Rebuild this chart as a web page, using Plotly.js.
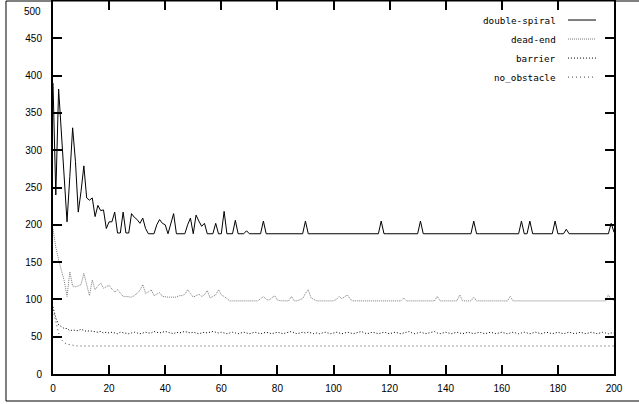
<!DOCTYPE html>
<html>
<head>
<meta charset="utf-8">
<script src="https://cdn.plot.ly/plotly-3.0.1.min.js"></script>
<style>html,body{margin:0;padding:0;background:#fff;}#chart{width:639px;height:404px;}</style>
</head>
<body>
<div id="chart"></div>
<script>
// Series names (legend order)
const seriesNames = ["double-spiral", "dead-end", "barrier", "no_obstacle"];

// Values per step 0..200
const doubleSpiral = [
390,240,382,320,255,204,265,330,285,217,
245,279,236,233,236,211,226,219,220,195,
204,204,217,189,189,217,189,189,215,210,
207,202,209,195,188,188,188,200,207,202,
200,188,200,215,188,188,188,188,200,209,
188,213,205,198,202,188,188,188,202,188,
188,218,188,188,188,206,188,188,188,192,
188,188,188,188,188,205,188,188,188,188,
188,188,188,188,188,188,188,188,188,188,
205,188,188,188,188,188,188,188,188,188,
188,188,188,188,188,188,188,188,188,188,
188,188,188,188,188,188,188,205,188,188,
188,188,188,188,188,188,188,188,188,188,
188,205,188,188,188,188,188,188,188,188,
188,188,188,188,188,188,188,188,188,188,
205,188,188,188,188,188,188,188,188,188,
188,188,188,188,188,188,188,205,188,188,
205,188,188,188,188,188,188,188,188,205,
188,188,188,194,188,188,188,188,188,188,
188,188,188,188,188,188,188,188,188,202,
190];

const deadEnd = [
194,170,153,139,125,104,137,118,117,118,
120,135,120,105,126,113,118,122,115,117,
119,114,110,113,108,104,104,104,103,105,
108,112,120,108,110,113,105,107,109,104,
103,103,103,103,103,105,105,107,113,108,
103,105,107,104,106,112,102,104,106,113,
106,104,101,98,98,98,98,98,98,98,
98,98,98,98,101,104,100,99,102,105,
99,98,98,98,98,104,98,98,99,101,
108,113,102,100,98,98,98,98,98,98,
98,100,104,101,103,106,100,98,98,98,
98,98,98,98,98,98,98,98,98,98,
98,98,98,98,98,102,98,98,98,98,
98,98,98,98,98,98,98,104,98,98,
98,98,98,98,98,106,98,98,98,98,
103,98,98,98,98,98,98,98,98,98,
98,98,98,104,98,98,98,98,98,98,
98,98,98,98,98,98,98,98,98,98,
98,98,98,98,98,98,98,98,98,98,
98,98,98,98,98,98,98,98,106,100,
99];

const barrier = [
90,75,66,63,61,61,58,59,59,58,
60,58,57,58,57,56,56,57,55,56,
55,56,55,54,56,55,55,54,55,56,
55,54,55,56,55,55,57,56,55,56,
57,56,55,54,56,55,56,57,56,55,
56,55,54,55,56,55,56,57,56,55,
56,55,54,55,56,55,54,55,56,55,
54,55,56,55,54,55,56,55,54,55,
56,55,54,55,56,57,55,54,55,56,
55,56,55,54,55,54,55,56,55,54,
55,56,55,54,55,56,55,54,55,56,
57,55,54,55,56,55,54,55,56,55,
54,55,56,55,54,55,56,57,55,54,
55,56,55,54,55,56,57,55,54,55,
56,55,54,55,56,55,54,55,56,55,
54,55,56,55,54,55,56,55,54,55,
56,55,54,55,56,55,54,55,56,55,
54,55,56,55,54,55,56,55,54,55,
56,55,54,55,56,55,54,55,56,55,
54,55,56,55,54,55,56,55,54,55,
55];

const noObstacle = [
86,70,55,46,42,40,39,38.5,38,37.5,
37.5,37.5,37.5,37.5,37.5,37.5,37.5,37.5,37.5,37.5,
37.5,37.5,37.5,37.5,37.5,37.5,37.5,37.5,37.5,37.5,
37.5,37.5,37.5,37.5,37.5,37.5,37.5,37.5,37.5,37.5,
37.5,37.5,37.5,37.5,37.5,37.5,37.5,37.5,37.5,37.5,
37.5,37.5,37.5,37.5,37.5,37.5,37.5,37.5,37.5,37.5,
37.5,37.5,37.5,37.5,37.5,37.5,37.5,37.5,37.5,37.5,
37.5,37.5,37.5,37.5,37.5,37.5,37.5,37.5,37.5,37.5,
37.5,37.5,37.5,37.5,37.5,37.5,37.5,37.5,37.5,37.5,
37.5,37.5,37.5,37.5,37.5,37.5,37.5,37.5,37.5,37.5,
37.5,37.5,37.5,37.5,37.5,37.5,37.5,37.5,37.5,37.5,
37.5,37.5,37.5,37.5,37.5,37.5,37.5,37.5,37.5,37.5,
37.5,37.5,37.5,37.5,37.5,37.5,37.5,37.5,37.5,37.5,
37.5,37.5,37.5,37.5,37.5,37.5,37.5,37.5,37.5,37.5,
37.5,37.5,37.5,37.5,37.5,37.5,37.5,37.5,37.5,37.5,
37.5,37.5,37.5,37.5,37.5,37.5,37.5,37.5,37.5,37.5,
37.5,37.5,37.5,37.5,37.5,37.5,37.5,37.5,37.5,37.5,
37.5,37.5,37.5,37.5,37.5,37.5,37.5,37.5,37.5,37.5,
37.5,37.5,37.5,37.5,37.5,37.5,37.5,37.5,37.5,37.5,
37.5,37.5,37.5,37.5,37.5,37.5,37.5,37.5,37.5,37.5,
37.5];

const xTicks = [0,20,40,60,80,100,120,140,160,180,200];
const yTicks = [0,50,100,150,200,250,300,350,400,450,500];

const seriesValues = [doubleSpiral, deadEnd, barrier, noObstacle];
const styles = [
  {color:'#000000', dash:'solid'},
  {color:'#7a7a7a', dash:'1px,1px'},
  {color:'#000000', dash:'1px,2px'},
  {color:'#444444', dash:'1px,3px'}
];

const traces = seriesValues.map((v,i)=>({
  y: v, type:'scatter', mode:'lines', name: seriesNames[i],
  line:{color:styles[i].color, dash:styles[i].dash, width:1},
  showlegend:false, hoverinfo:'skip'
}));

const tickFont = {family:'Liberation Sans', size:10, color:'#000'};

// Legend drawn gnuplot-style (text right, sample on the right)
const legRowsY = [0.949, 0.898, 0.847, 0.796];
const annotations = seriesNames.map((n,i)=>({
  xref:'paper', yref:'paper', x:0.9, y:legRowsY[i], xanchor:'right', yanchor:'middle',
  text:n, showarrow:false, font:{family:'DejaVu Sans Mono', size:9.3, color:'#000'}
}));
// top y label (drawn slightly below the border, as in the reference)
const topTick = yTicks[yTicks.length-1];
annotations.push({xref:'paper', yref:'paper', x:-0.0178, y:0.973, xanchor:'right', yanchor:'middle',
  text:String(topTick), showarrow:false, font:tickFont});

const shapes = seriesNames.map((n,i)=>({
  type:'line', xref:'paper', yref:'paper', x0:0.918, x1:0.968, y0:legRowsY[i], y1:legRowsY[i],
  line:{color:styles[i].color, dash:styles[i].dash, width:1}
}));
// outer frame
shapes.push({type:'rect', xref:'paper', yref:'paper', x0:-0.0838, x1:1.2, y0:-0.0724, y1:1.0,
  line:{color:'#000', width:1}, fillcolor:'rgba(0,0,0,0)', layer:'below'});

const axisCommon = {
  showgrid:false, zeroline:false, showline:true, linecolor:'#000', linewidth:2,
  mirror:'ticks', ticks:'inside', ticklen:9, tickwidth:2, tickcolor:'#000',
  tickfont:tickFont
};

const layout = {
  width:639, height:404,
  margin:{l:53, r:25, t:1, b:30, pad:0},
  paper_bgcolor:'#fff', plot_bgcolor:'#fff',
  xaxis:Object.assign({}, axisCommon, {range:[0,200], tickmode:'array', tickvals:xTicks, ticktext:xTicks.map(String), ticklabelstandoff:4}),
  yaxis:Object.assign({}, axisCommon, {range:[0,500], tickmode:'array', tickvals:yTicks,
    ticktext:yTicks.map(v => v===topTick ? '' : String(v)), ticklabelstandoff:7}),
  annotations:annotations, shapes:shapes, showlegend:false
};

Plotly.newPlot('chart', traces, layout, {staticPlot:true, displayModeBar:false});
</script>
</body>
</html>
